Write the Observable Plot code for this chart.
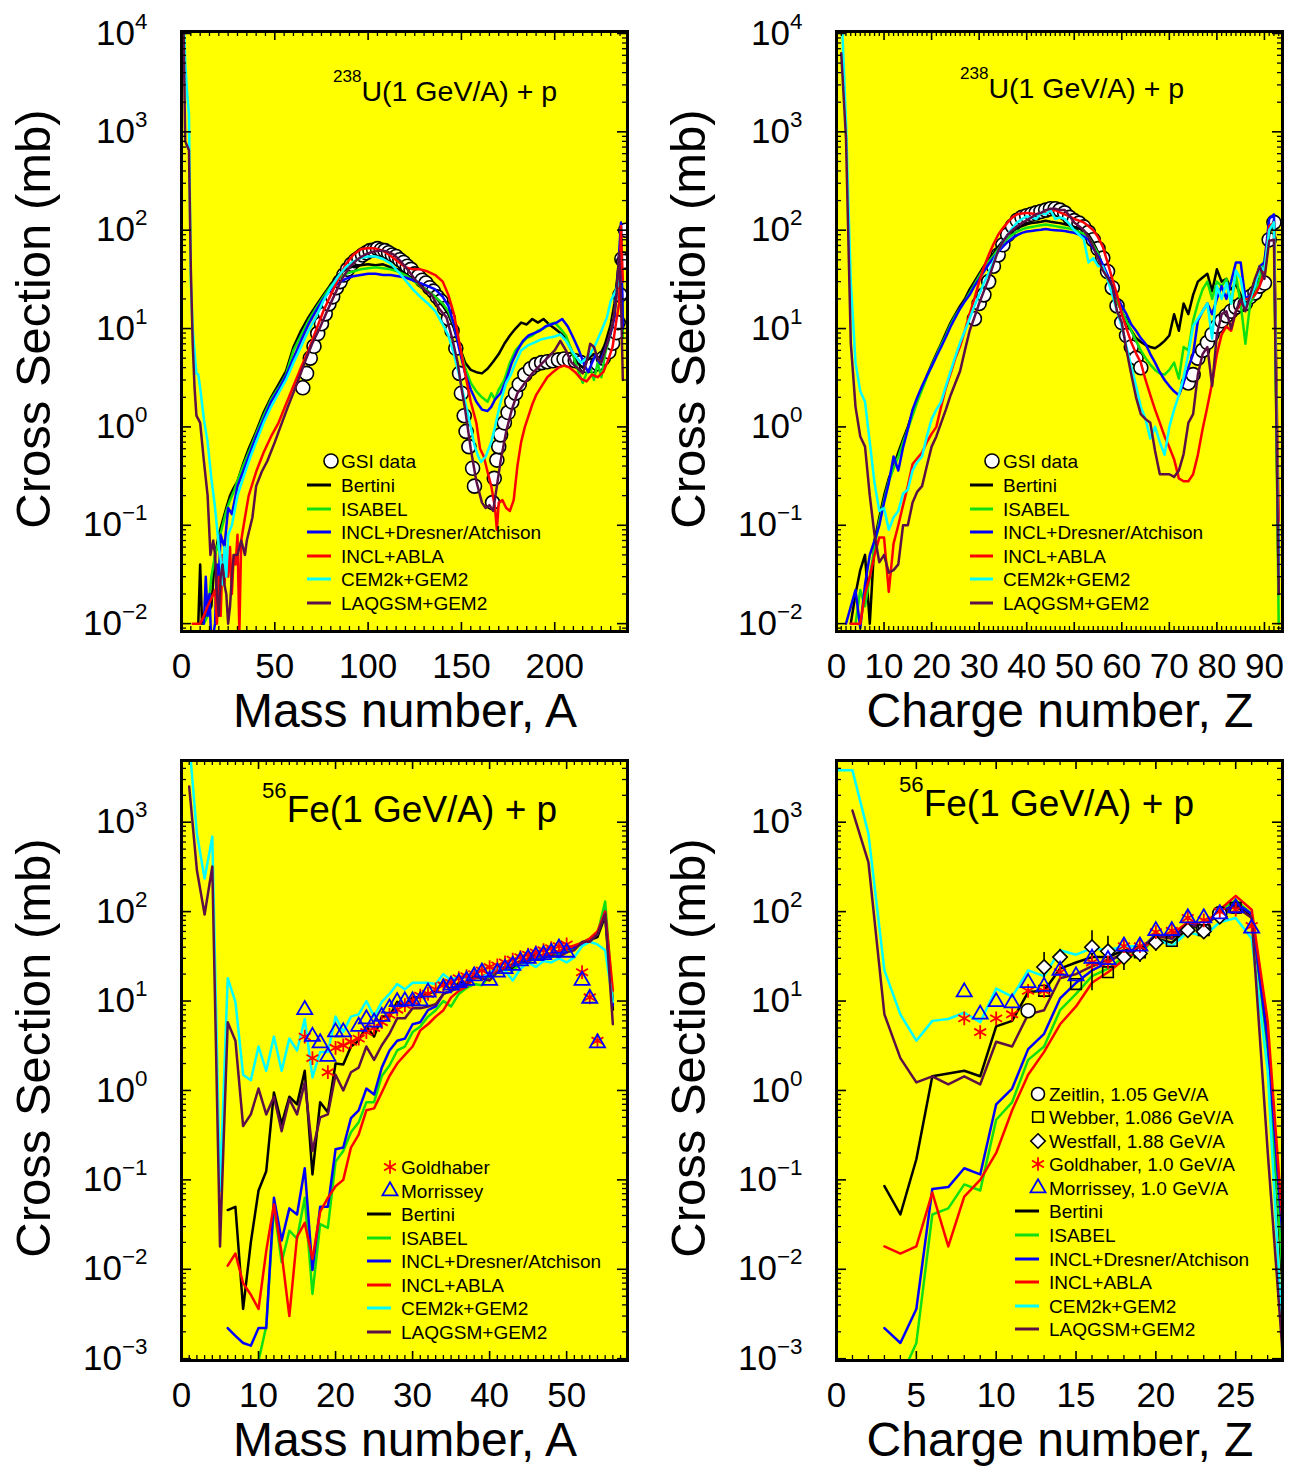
<!DOCTYPE html>
<html><head><meta charset="utf-8">
<script src="https://cdn.jsdelivr.net/npm/d3@7"></script>
<script src="https://cdn.jsdelivr.net/npm/@observablehq/plot@0.6"></script>
<style>
body{margin:0;background:#fff;font-family:"Liberation Sans",Arial,sans-serif}
#page{position:relative;width:1304px;height:1467px;overflow:hidden;background:#fff}
#page svg{position:absolute}
</style></head><body><div id="page"></div>
<script>
// ---------------- DATA ----------------
const MODEL_NAMES = ["Bertini","ISABEL","INCL+Dresner/Atchison","INCL+ABLA","CEM2k+GEM2","LAQGSM+GEM2"];
const MODEL_COLORS = ["#000000","#10e010","#0000ff","#ff0000","#00ffff","#5c1045"];

// 238U + p, cross section vs mass number A  [A, mb]
const U_A_GSI = [[65,2.5],[67,3.5],[69,5],[71,6.6],[73,8.9],[75,11.2],[77,14.1],[79,17.8],[81,21],[83,26],[85,30],[87,35],[89,40],[91,45],[93,49],[95,52],[97,56],[99,59],[101,62],[103,63],[105,65],[107,63],[109,62],[111,59],[113,56],[115,54],[117,50],[119,47],[121,43],[123,40],[125,36],[127,34],[129,31],[131,29],[133,26],[135,24],[137,21],[139,19],[141,16],[143,12.6],[145,9.5],[147,6.3],[149,3.5],[150,2.2],[151.5,1.3],[152.5,0.9],[154,0.63],[156,0.38],[157,0.25],[166.7,0.17],[167.6,0.3],[169,0.46],[170,0.63],[171,0.83],[173,1.1],[175,1.4],[177,1.8],[179,2.2],[181,2.7],[184,3.4],[187,3.9],[190,4.3],[193,4.5],[196,4.6],[199,4.7],[202,4.8],[205,4.9],[208,4.8],[211,4.7],[214,4.5],[217,4.2],[220,4.2],[223,4.4],[226,5],[229,5.8],[231,7.1],[233,9.1],[234,11.5],[235,22],[236,51],[237,48],[238,100]];
const U_A_Bertini = [[9,0.01],[10,0.04],[11,0.01],[16,0.015],[18,0.05],[20,0.08],[22,0.11],[24,0.15],[26,0.2],[28,0.24],[30,0.28],[33,0.42],[36,0.6],[40,0.9],[44,1.4],[48,2.0],[52,2.7],[56,3.7],[60,6.5],[64,9.5],[68,13],[72,17],[76,22],[80,28],[84,35],[88,40],[92,43],[96,44],[100,45],[104,44],[108,45],[112,42],[116,40],[120,36],[124,32],[128,28],[132,24],[136,21],[140,17],[143,14],[146,10],[149,6.5],[152,4.5],[155,3.8],[158,3.6],[161,3.5],[164,3.9],[167,4.6],[170,5.5],[173,7],[176,8.5],[179,10],[182,11.5],[185,11],[188,12.5],[191,11.5],[194,12.5],[197,11],[200,10],[203,9],[206,8],[209,6],[212,4.5],[215,4],[218,5],[221,5.5],[224,5],[227,7],[230,11],[232,18],[234,40],[235.5,60],[236.5,10]];
const U_A_ISABEL = [[12,0.01],[14,0.012],[16,0.03],[18,0.05],[20,0.07],[22,0.1],[24,0.14],[26,0.18],[28,0.22],[30,0.28],[33,0.4],[36,0.55],[40,0.85],[44,1.3],[48,1.9],[52,2.5],[56,3.4],[60,6],[64,8.5],[68,12],[72,16],[76,21],[80,27],[84,32],[88,36],[92,38],[96,40],[100,41],[104,42],[108,41],[112,40],[116,38],[120,35],[124,31],[128,27],[132,24],[136,21],[140,18],[143,15],[146,11],[149,6.5],[152,4],[155,2.8],[158,2.3],[161,2.0],[164,1.8],[166,2.2],[168,1.9],[170,2.4],[173,3],[176,4.5],[179,6],[182,7],[185,8],[188,8.5],[191,9.5],[194,10],[197,11],[200,11.5],[203,10],[206,8.5],[209,6],[212,4],[215,2.8],[217,3.5],[219,4],[221,3],[223,4.5],[225,3.2],[227,5.5],[230,9],[232,14],[234,35],[235.5,50],[236.5,8]];
const U_A_INCLD = [[12,0.01],[13,0.03],[14,0.012],[15,0.02],[16,0.006],[18,0.01],[19,0.04],[20,0.03],[21,0.08],[23,0.06],[25,0.15],[27,0.13],[30,0.25],[33,0.35],[36,0.5],[40,0.8],[44,1.2],[48,1.8],[52,2.4],[56,3.3],[60,5],[64,7.5],[68,11],[72,15],[76,20],[80,25],[84,29],[88,32],[92,34],[96,35],[100,36],[104,36],[108,35],[112,35],[116,34],[120,33],[124,31],[128,29],[132,27],[136,25],[140,21],[143,17],[146,11],[149,6],[152,3.5],[155,2.4],[158,1.8],[161,1.5],[164,1.45],[166,1.6],[168,1.9],[171,2.2],[174,3],[177,4.5],[180,6],[183,7.5],[186,8.5],[189,9],[192,9.5],[195,10.5],[198,11],[201,11.5],[204,12.5],[207,10.5],[210,8],[213,6],[216,4.2],[218,3.6],[220,4.5],[222,5.5],[224,4.5],[226,5.5],[228,7],[230,9],[232,13],[234,40],[235.5,120],[236.5,10]];
const U_A_ABLA = [[6,0.01],[10,0.01],[12,0.012],[14,0.015],[16,0.018],[18,0.022],[19,0.01],[20,0.03],[21,0.012],[22,0.05],[23,0.025],[24,0.05],[25,0.03],[26,0.06],[27,0.02],[28,0.05],[29,0.04],[30,0.08],[31,0.008],[32,0.07],[34,0.12],[36,0.2],[40,0.35],[44,0.55],[48,0.8],[52,1.1],[56,1.7],[60,2.6],[64,4],[68,6],[72,9.5],[76,15],[80,22],[84,32],[88,45],[92,56],[96,64],[100,66],[104,65],[108,62],[112,55],[116,48],[120,42],[124,40],[128,40],[132,38],[136,35],[140,30],[143,22],[146,14],[149,7],[152,3.5],[155,1.8],[158,1.1],[160,0.6],[162,0.5],[164,0.35],[166,0.25],[168,0.15],[169,0.09],[170,0.17],[172,0.18],[174,0.15],[176,0.14],[178,0.18],[180,0.4],[182,0.7],[184,1.0],[186,1.3],[188,1.7],[190,2.1],[193,2.6],[196,3.2],[199,3.6],[202,4],[205,4.2],[208,4],[211,3.6],[214,3.1],[217,2.9],[220,3.4],[223,3.2],[226,3.6],[229,5],[231,6.5],[233,12],[234.5,18],[235.5,110],[236.5,30]];
const U_A_CEM = [[1,20000],[2,5000],[3,2500],[4,1500],[5,30],[6,10],[8,3.5],[9,3.4],[10,2.5],[12,1.2],[14,0.7],[16,0.3],[18,0.15],[20,0.06],[21,0.045],[22,0.025],[23,0.06],[24,0.03],[25,0.08],[27,0.1],[30,0.2],[33,0.3],[37,0.5],[40,0.7],[44,1.1],[48,1.6],[52,2.2],[56,3.0],[60,4.5],[64,6.5],[68,9.5],[72,13],[76,19],[80,26],[84,34],[88,42],[92,48],[96,52],[100,54],[104,54],[108,51],[112,46],[116,38],[120,31],[124,25],[128,21],[132,18],[136,15],[140,11],[143,8.5],[146,5.5],[149,3.2],[152,1.8],[155,1.0],[157,0.65],[159,0.5],[160.5,0.44],[163,0.5],[166,0.7],[168,1.0],[171,1.8],[174,2.8],[176.5,3.4],[179,4.5],[182,6],[186,6.8],[189,7.2],[193,7.8],[196,8],[200,8.3],[203,8.7],[206,7.5],[209,6],[212,5],[214,4.5],[217,5],[219,5.5],[222,7],[225,9.5],[228,13],[230,19],[233,25],[235,32]];
const U_A_LAQGSM = [[1,15000],[2,800],[4,650],[5,40],[6,7],[7,2.5],[8,1.3],[9,1.2],[10,1.1],[12,0.45],[14,0.2],[15.5,0.05],[17,0.07],[18,0.05],[19,0.02],[20,0.012],[21,0.03],[22,0.04],[23,0.025],[24,0.02],[25,0.01],[26,0.015],[27,0.03],[28,0.05],[30,0.05],[32,0.07],[34,0.05],[35,0.07],[38,0.12],[40,0.25],[43,0.35],[46,0.45],[50,0.7],[53,1.0],[57,1.6],[62,2.8],[66,4.5],[70,7],[74,10],[78,15],[82,22],[86,32],[90,42],[94,50],[98,56],[102,60],[106,62],[110,61],[114,56],[118,47],[122,38],[126,30],[130,25],[134,22],[138,16],[142,13],[145,8],[148,4.5],[150,2.5],[152,1.5],[155,0.6],[158,0.28],[161,0.17],[163,0.15],[165,0.16],[167,0.14],[169,0.25],[171,0.45],[174,0.9],[177,1.5],[180,2.2],[184,2.8],[188,3.5],[192,4.2],[196,5],[200,6],[203,7.5],[206,6],[209,4.5],[212,4],[215,3.5],[217,4.5],[219,7],[221,6.5],[223,5],[225,4.5],[227,6],[229,8],[231,11],[233,20],[234.5,60],[235.5,20],[236.5,3]];

// 238U + p, cross section vs charge number Z  [Z, mb]
const U_Z_GSI = [[29,12.6],[30,18],[31,22],[32,30],[33,43],[34,56],[35,71],[36,90],[37,110],[38,126],[39,135],[40,140],[41,145],[42,150],[43,155],[44,160],[45,165],[46,165],[47,160],[48,150],[49,135],[50,125],[51,118],[52,108],[53,95],[54,80],[55,65],[56,52],[57,38],[58,26],[59,17],[60,11.5],[61,8.5],[62,6.5],[63,5],[64,4],[74,2.8],[75,3.4],[76,5],[77,6],[78,7.2],[79,8.7],[80,10.5],[81,12],[82,13.5],[83,15],[84,16.5],[85,17.5],[86,18],[87,21],[88,23],[89,27],[90,29],[91,80],[92,120]];
const U_Z_Bertini = [[3,0.01],[4,0.02],[5,0.035],[6,0.05],[7,0.01],[8,0.07],[9,0.12],[10,0.2],[11,0.3],[12,0.4],[13,0.55],[14,0.75],[15,1.0],[16,1.4],[17,1.9],[18,2.5],[19,3.3],[20,4.3],[21,5.5],[22,7],[23,9],[24,11.5],[25,14],[26,17],[27,20],[28,25],[29,30],[30,36],[31,43],[32,50],[33,58],[34,68],[35,78],[36,88],[37,97],[38,105],[39,110],[40,115],[41,118],[42,120],[43,122],[44,125],[45,122],[46,120],[47,118],[48,115],[49,112],[50,108],[51,104],[52,98],[53,90],[54,75],[55,60],[56,42],[57,32],[58,25],[59,19],[60,15],[61,11.5],[62,9.5],[63,8],[64,7.3],[65,6.8],[66,6.5],[67,6.3],[68,6.8],[69,7.5],[70,8.5],[71,14],[72,9.5],[73,18],[74,14],[75,22],[76,30],[77,33],[78,36],[79,24],[80,40],[81,30],[82,32],[83,25],[84,28],[85,22],[86,18],[87,20],[88,24],[89,28],[90,35],[91,90],[92,125],[93,0.02]];
const U_Z_ISABEL = [[4,0.01],[5,0.022],[6,0.015],[7,0.03],[8,0.06],[9,0.11],[10,0.18],[11,0.28],[12,0.38],[13,0.5],[14,0.7],[15,0.95],[16,1.3],[17,1.8],[18,2.4],[19,3.2],[20,4.2],[21,5.3],[22,6.8],[23,8.5],[24,11],[25,13.5],[26,16],[27,19],[28,23],[29,28],[30,34],[31,41],[32,48],[33,55],[34,64],[35,73],[36,82],[37,90],[38,97],[39,102],[40,106],[41,108],[42,110],[43,112],[44,114],[45,112],[46,110],[47,108],[48,106],[49,104],[50,100],[51,96],[52,92],[53,85],[54,70],[55,58],[56,42],[57,32],[58,25],[59,19],[60,15],[61,12],[62,9.5],[63,7.5],[64,6],[65,5],[66,4.3],[67,3.8],[68,3.5],[69,3.4],[70,3.8],[71,4.5],[72,3.1],[73,6.5],[74,6],[75,12],[76,18],[77,25],[78,30],[79,20],[80,30],[81,27],[82,32],[83,18],[84,35],[85,18],[86,7],[87,18],[88,22],[89,32],[90,50],[91,100],[92,120],[93,0.01]];
const U_Z_INCLD = [[2,0.01],[4,0.022],[5,0.009],[6,0.025],[7,0.05],[8,0.07],[9,0.1],[10,0.17],[11,0.27],[12,0.5],[13,0.36],[14,0.62],[15,0.95],[16,1.5],[17,2.0],[18,2.6],[19,3.3],[20,4.1],[21,5.2],[22,6.5],[23,8.2],[24,10.5],[25,13],[26,16],[27,19],[28,22],[29,27],[30,32],[31,38],[32,45],[33,52],[34,60],[35,68],[36,76],[37,83],[38,89],[39,94],[40,97],[41,98],[42,100],[43,101],[44,103],[45,101],[46,100],[47,99],[48,98],[49,96],[50,94],[51,90],[52,86],[53,80],[54,65],[55,55],[56,45],[57,35],[58,27],[59,21],[60,17],[61,14],[62,11],[63,9.5],[64,8],[65,7],[66,5.5],[67,4.5],[68,3.6],[69,3],[70,2.6],[71,2.3],[72,2.1],[73,2.8],[74,4],[75,5.5],[76,12],[77,15],[78,18],[79,14],[80,20],[81,27],[82,20],[83,30],[84,47],[85,47],[86,20],[87,22],[88,27],[89,43],[90,47],[91,130],[92,145],[93,0.04]];
const U_Z_ABLA = [[3,0.01],[4,0.01],[5,0.01],[6,0.02],[7,0.03],[8,0.05],[9,0.075],[10,0.075],[11,0.021],[12,0.065],[13,0.1],[14,0.16],[15,0.25],[16,0.42],[17,0.48],[18,0.55],[19,0.7],[20,0.85],[21,1.0],[22,1.6],[23,2.5],[24,3.5],[25,5],[26,6.6],[27,9.5],[28,14],[29,20],[30,30],[31,42],[32,56],[33,72],[34,90],[35,105],[36,120],[37,135],[38,145],[39,148],[40,150],[41,148],[42,145],[43,148],[44,150],[45,155],[46,160],[47,152],[48,145],[49,138],[50,130],[51,125],[52,120],[53,110],[54,100],[55,85],[56,68],[57,47],[58,32],[59,22],[60,14],[61,10],[62,7.2],[63,5.6],[64,4.5],[65,3.0],[66,2.1],[67,1.5],[68,1.1],[69,0.8],[70,0.62],[71,0.47],[72,0.3],[73,0.28],[74,0.28],[75,0.33],[76,0.52],[77,0.95],[78,1.6],[79,2.8],[80,5.5],[81,8.7],[82,10.5],[83,9.5],[84,15],[85,18],[86,20],[87,20],[88,22],[89,27],[90,39],[91,110],[92,120],[93,0.11]];
const U_Z_CEM = [[1,20000],[2,1250],[3,30],[4,4.5],[5,2.3],[6,1.8],[7,0.7],[8,0.27],[9,0.14],[10,0.15],[11,0.09],[12,0.12],[13,0.14],[14,0.21],[15,0.23],[16,0.36],[17,0.44],[18,0.5],[19,0.8],[20,1.2],[21,1.5],[22,1.8],[23,2.6],[24,3.7],[25,5.2],[26,7.2],[27,9.5],[28,12.6],[29,17],[30,22],[31,29],[32,37],[33,48],[34,62],[35,76],[36,90],[37,105],[38,120],[39,130],[40,138],[41,135],[42,130],[43,150],[44,145],[45,160],[46,130],[47,135],[48,130],[49,115],[50,100],[51,90],[52,81],[53,47],[54,52],[55,43],[56,43],[57,32],[58,22],[59,15],[60,10.5],[61,6.5],[62,4.1],[63,2.6],[64,1.6],[65,1.2],[66,0.76],[67,1.0],[68,0.7],[69,0.52],[70,1.0],[71,1.5],[72,2.1],[73,3.2],[74,5.5],[75,10.5],[76,12.6],[77,15],[78,18],[79,7.9],[80,27],[81,20],[82,29],[83,18],[84,39],[85,32],[86,16.5],[87,20],[88,27],[89,43],[90,39],[91,100],[92,120],[93,0.03]];
const U_Z_LAQGSM = [[1,6300],[2,850],[3,7.2],[4,1.6],[5,0.8],[6,0.63],[7,0.2],[8,0.08],[9,0.042],[10,0.05],[11,0.033],[12,0.035],[13,0.04],[14,0.1],[15,0.1],[16,0.17],[17,0.22],[18,0.25],[19,0.4],[20,0.63],[21,0.8],[22,1.1],[23,1.5],[24,2.1],[25,2.8],[26,3.7],[27,6],[28,9.5],[29,13],[30,18],[31,24],[32,32],[33,45],[34,62],[35,76],[36,90],[37,100],[38,110],[39,118],[40,126],[41,135],[42,145],[43,150],[44,160],[45,165],[46,165],[47,160],[48,160],[49,140],[50,120],[51,110],[52,100],[53,85],[54,68],[55,52],[56,39],[57,33],[58,27],[59,15],[60,11.5],[61,6],[62,3.4],[63,2],[64,1.35],[65,1.2],[66,1.1],[67,0.57],[68,0.33],[69,0.33],[70,0.33],[71,0.31],[72,0.36],[73,0.53],[74,1.1],[75,1.35],[76,3.4],[77,5.5],[78,6.5],[79,2.6],[80,8.7],[81,14],[82,15],[83,10],[84,15],[85,20],[86,15],[87,22],[88,32],[89,43],[90,32],[91,78],[92,80],[93,0.02]];

// 56Fe + p, cross section vs mass number A  [A, mb]
const Fe_A_Goldhaber = [[16,4.0],[17,2.3],[19,1.6],[20,3.0],[21,3.2],[22,3.5],[23,3.8],[24,4.5],[25,5],[26,5.8],[27,7],[28,8],[29,9],[30,10],[31,11.5],[32,12],[33,13.5],[34,15],[35,16],[36,18],[37,19],[38,20],[39,22],[40,24],[41,25],[42,27],[43,29],[44,31],[45,33],[46,35],[47,37],[48,39],[49,41],[50,43],[52,21],[53,11],[54,3.6]];
const Fe_A_Morrissey = [[16,8],[17,4.0],[18,3.4],[19,2.4],[20,4.5],[21,4.5],[23,5.2],[24,6.3],[25,5.8],[26,6.7],[27,8.3],[28,9.8],[29,10],[30,10],[31,10],[32,12.5],[34,14],[35,15],[36,16],[37,17],[38,19],[39,21],[40,17],[41,21],[42,23],[43,25],[44,28],[45,30],[46,32],[47,33],[48,35],[49,39],[50,35],[52,17],[53,10.7],[54,3.4]];
const Fe_A_Bertini = [[6,0.046],[7,0.05],[8,0.0036],[9,0.02],[10,0.076],[11,0.125],[12,0.95],[13,0.42],[14,0.85],[15,0.7],[16,1.66],[17,0.115],[18,0.74],[19,0.57],[20,2.0],[21,1.95],[22,3.1],[23,3.6],[24,5.2],[25,4.0],[26,6.7],[27,6.7],[28,9.8],[29,8.7],[30,11],[31,11],[32,12],[33,13],[34,16.5],[35,13],[36,16],[37,16],[38,19],[39,18],[40,20],[41,22],[42,24],[43,23],[44,27],[45,28],[46,30],[47,31],[48,33],[49,34],[50,38],[51,40],[52,44],[53,48],[54,52],[55,90],[56,8]];
const Fe_A_ISABEL = [[10,0.00095],[11,0.0023],[12,0.05],[13,0.012],[14,0.027],[15,0.022],[16,0.063],[17,0.0053],[18,0.032],[19,0.029],[20,0.16],[21,0.21],[22,0.34],[23,0.44],[24,0.74],[25,0.74],[26,1.45],[27,1.9],[28,2.8],[29,3.1],[30,4.5],[31,5.2],[32,6.7],[33,7.9],[34,10],[35,8.7],[36,12],[37,14],[38,15.5],[39,15],[40,19],[41,21],[42,23],[43,22],[44,26],[45,28],[46,30],[47,32],[48,31],[49,34],[50,36],[51,38],[52,45],[53,50],[54,56],[55,130],[56,10]];
const Fe_A_INCLD = [[6,0.0022],[7,0.0018],[8,0.0015],[9,0.0014],[10,0.0022],[11,0.0022],[12,0.063],[13,0.021],[14,0.048],[15,0.041],[16,0.135],[17,0.0098],[18,0.05],[19,0.05],[20,0.22],[21,0.23],[22,0.49],[23,0.6],[24,1.05],[25,0.9],[26,1.8],[27,2.8],[28,3.6],[29,3.8],[30,5.5],[31,5.8],[32,7.9],[33,8.7],[34,12],[35,13],[36,15],[37,16],[38,18],[39,19],[40,20],[41,22],[42,24],[43,25],[44,27],[45,30],[46,31],[47,33],[48,34],[49,36],[50,38],[51,40],[52,44],[53,48],[54,56],[55,100],[56,9]];
const Fe_A_ABLA = [[6,0.011],[7,0.015],[8,0.007],[9,0.0052],[10,0.0036],[11,0.016],[12,0.053],[13,0.015],[14,0.003],[15,0.023],[16,0.033],[17,0.013],[18,0.044],[19,0.063],[20,0.085],[21,0.1],[22,0.23],[23,0.32],[24,0.6],[25,0.63],[26,0.95],[27,1.45],[28,2.0],[29,2.5],[30,3.1],[31,4.7],[32,5.5],[33,6.7],[34,7.9],[35,11],[36,13],[37,14.5],[38,18],[39,19],[40,20],[41,22],[42,23],[43,26],[44,28],[45,30],[46,31],[47,33],[48,34],[49,36],[50,39],[51,42],[52,45],[53,50],[54,60],[55,100],[56,13]];
const Fe_A_CEM = [[1,8000],[2,740],[3,235],[4,690],[5,0.075],[6,18],[7,9.8],[8,1.5],[9,1.3],[10,3.1],[11,1.66],[12,4],[13,1.66],[14,3.8],[15,2.8],[16,6.3],[17,1.4],[18,2.7],[19,2.7],[20,6.7],[21,4.5],[22,6.7],[23,7.1],[24,10],[25,6.7],[26,9.8],[27,12],[28,15.5],[29,13.5],[30,16],[31,16],[32,16],[33,15.5],[34,20],[35,17],[36,19],[37,18],[38,22],[39,18],[40,21],[41,23],[42,22],[43,17],[44,23],[45,27],[46,24],[47,28],[48,27],[49,30],[50,27],[51,31],[52,41],[53,46],[54,43],[55,37],[56,9.8]];
const Fe_A_LAQGSM = [[1,2500],[2,290],[3,93],[4,320],[5,0.018],[6,5.8],[7,3.6],[8,0.4],[9,0.54],[10,1.05],[11,0.54],[12,0.85],[13,0.35],[14,0.8],[15,0.54],[16,1.23],[17,0.21],[18,0.5],[19,0.54],[20,1.5],[21,1.0],[22,1.6],[23,1.8],[24,3.1],[25,2.2],[26,3.2],[27,4.3],[28,6.4],[29,6.4],[30,8.3],[31,8.3],[32,8.7],[33,9.2],[34,12],[35,13],[36,14],[37,15.5],[38,19],[39,18],[40,17],[41,21],[42,23],[43,26],[44,28],[45,27],[46,35],[47,30],[48,33],[49,31],[50,35],[51,37],[52,46],[53,46],[54,56],[55,94],[56,5.5]];

// 56Fe + p, cross section vs charge number Z  [Z, mb]
const Fe_Z_Zeitlin = [[12,7.8],[23,65],[24,95]];
const Fe_Z_Webber = [[13,13],[15,15.5],[17,21],[19,35],[21,47],[23,62],[25,110]];
const Fe_Z_Westfall = [[13,24,17,35],[14,31,25,38],[16,40,13,61],[17,36,24,53],[18,31,22,41],[19,34,27,41],[20,45,36,55],[22,62,52,72],[23,60,50,70],[24,88,78,98]]; // [Z, mb, low, high]
const Fe_Z_Goldhaber = [[8,6.4],[9,4.5],[10,6.4],[11,7.1],[12,13],[13,13],[14,21],[16,27],[17,27],[18,41],[19,41],[20,59],[21,61],[22,85],[23,80],[24,100],[25,105],[26,69]];
const Fe_Z_Morrissey = [[8,12.6],[9,7.1],[10,9.8],[11,9.5],[12,16],[13,14.5],[14,22],[15,19],[16,30],[17,29],[18,41],[19,41],[20,61],[21,61],[22,85],[23,85],[24,94],[25,110],[26,65]];
const Fe_Z_Bertini = [[3,0.085],[4,0.041],[5,0.17],[6,1.44],[7,1.55],[8,1.66],[9,1.44],[10,5.2],[11,6],[12,12.6],[13,13],[14,23],[15,27],[16,31],[17,31],[18,37],[19,37],[20,50],[21,45],[22,65],[23,69],[24,100],[25,120],[26,89],[27,4],[28,0.004]];
const Fe_Z_ISABEL = [[4,0.0006],[5,0.0015],[6,0.041],[7,0.048],[8,0.089],[9,0.076],[10,0.47],[11,0.74],[12,2.2],[13,3.1],[14,7.9],[15,12],[16,19],[17,23],[18,31],[19,33],[20,53],[21,53],[22,69],[23,69],[24,105],[25,134],[26,94],[27,2.8],[28,0.006]];
const Fe_Z_INCLD = [[3,0.0022],[4,0.0015],[5,0.0036],[6,0.079],[7,0.083],[8,0.135],[9,0.115],[10,0.7],[11,1.05],[12,2.9],[13,4.3],[14,10.7],[15,16],[16,22],[17,27],[18,35],[19,37],[20,56],[21,50],[22,72],[23,72],[24,94],[25,126],[26,94],[27,3.5],[28,0.016]];
const Fe_Z_ABLA = [[3,0.018],[4,0.015],[5,0.018],[6,0.072],[7,0.018],[8,0.065],[9,0.1],[10,0.2],[11,0.6],[12,1.5],[13,2.7],[14,5.5],[15,8.7],[16,16],[17,21],[18,29],[19,37],[20,50],[21,56],[22,76],[23,72],[24,105],[25,150],[26,105],[27,6],[28,0.022]];
const Fe_Z_CEM = [[0,3800],[1,3800],[2,740],[3,22],[4,7.1],[5,3.6],[6,6],[7,6.3],[8,7.4],[9,5.8],[10,13.8],[11,11.2],[12,22],[13,19],[14,37],[15,33],[16,39],[17,37],[18,41],[19,41],[20,50],[21,41],[22,59],[23,53],[24,76],[25,85],[26,50],[27,1.66],[28,0.001]];
const Fe_Z_LAQGSM = [[1,1350],[2,355],[3,7.1],[4,2.3],[5,1.23],[6,1.44],[7,1.17],[8,1.44],[9,1.17],[10,3.5],[11,3.1],[12,7.1],[13,7.9],[14,18],[15,20],[16,24.5],[17,29],[18,33],[19,39],[20,53],[21,50],[22,69],[23,69],[24,94],[25,115],[26,85],[27,0.21],[28,0.0008]];

// tick values
const TL_XTICKS = [0,50,100,150,200];
const TR_XTICKS = [0,10,20,30,40,50,60,70,80,90];
const BL_XTICKS = [0,10,20,30,40,50];
const BR_XTICKS = [0,5,10,15,20,25];
const TOP_YTICKS = [1e-2,1e-1,1,10,100,1000,10000];
const BOT_YTICKS = [1e-3,1e-2,1e-1,1,10,100,1000];

// ---------------- RENDER ----------------
const FONT = "Liberation Sans, Arial, Helvetica, sans-serif";
const NS = "http://www.w3.org/2000/svg";
const FW = 446, FH = 600;
const page = document.getElementById("page");

function minorRange(step, max, skip) {
  const out = [];
  for (let v = step; v <= max + 1e-9; v += step) if (Math.abs(v / skip - Math.round(v / skip)) > 1e-6) out.push(+v.toFixed(6));
  return out;
}
function logMinors(lo, hi) {
  const out = [];
  for (let e = lo; e <= hi; e++) for (let m = 2; m <= 9; m++) out.push(m * Math.pow(10, e));
  return out;
}
function supFormat(d) { const e = Math.round(Math.log10(d)); return "10^" + (e < 0 ? "\u2212" + (-e) : String(e)); }
function fixSup(svg) {
  svg.querySelectorAll("text").forEach(t => {
    const m = /^10\^(.+)$/.exec(t.textContent);
    if (!m) return;
    while (t.firstChild) t.removeChild(t.firstChild);
    const a = document.createElementNS(NS, "tspan"); a.textContent = "10";
    const b = document.createElementNS(NS, "tspan"); b.textContent = m[1];
    b.setAttribute("font-size", "0.64em"); b.setAttribute("dy", "-0.72em");
    t.appendChild(a); t.appendChild(b);
  });
}

function panel(cfg) {
  const lineMarks = cfg.lines.map((data, i) => Plot.line(data, {x: d => d[0], y: d => d[1], stroke: MODEL_COLORS[i], strokeWidth: 2.5, clip: true}));
  const svg = Plot.plot({
    width: 646, height: cfg.height,
    marginLeft: 181, marginTop: 31, marginRight: 19, marginBottom: cfg.height - 631,
    style: {background: "transparent", fontFamily: FONT, fontSize: "35px", color: "#000", overflow: "visible"},
    x: {domain: cfg.xDomain},
    y: {type: "log", domain: cfg.yDomain},
    marks: [
      Plot.frame({fill: "#ffff00"}),
      ...(cfg.under || []),
      ...lineMarks,
      ...(cfg.over || []),
      Plot.ruleX(cfg.xMajor, {x: d => d, insetTop: FH - 9, strokeWidth: 1.6}),
      Plot.ruleX(cfg.xMajor, {x: d => d, insetBottom: FH - 9, strokeWidth: 1.6}),
      Plot.ruleX(cfg.xMinor, {x: d => d, insetTop: FH - 5, strokeWidth: 1.3}),
      Plot.ruleX(cfg.xMinor, {x: d => d, insetBottom: FH - 5, strokeWidth: 1.3}),
      Plot.ruleY(cfg.yMajor, {y: d => d, insetRight: FW - 10, strokeWidth: 1.6}),
      Plot.ruleY(cfg.yMajor, {y: d => d, insetLeft: FW - 10, strokeWidth: 1.6}),
      Plot.ruleY(cfg.yMinor, {y: d => d, insetRight: FW - 5, strokeWidth: 1.3}),
      Plot.ruleY(cfg.yMinor, {y: d => d, insetLeft: FW - 5, strokeWidth: 1.3}),
      Plot.axisX(cfg.xMajor, {anchor: "bottom", tickSize: 0, tickPadding: 22, fontSize: 35, label: null}),
      Plot.axisY(cfg.yMajor, {anchor: "left", tickSize: 0, tickPadding: 34, fontSize: 35, tickFormat: supFormat, label: null}),
      Plot.frame({stroke: "#000", strokeWidth: 3})
    ]
  });
  fixSup(svg);
  svg.style.left = cfg.left + "px";
  svg.style.top = cfg.top + "px";
  page.appendChild(svg);
}

const TOP_YDOM = [Math.pow(10, -2.08), Math.pow(10, 4.02)];
const BOT_YDOM = [Math.pow(10, -3.02), Math.pow(10, 3.69)];
const gsiDot = data => Plot.dot(data, {x: d => d[0], y: d => d[1], r: 7, fill: "#fff", stroke: "#000", strokeWidth: 1.6, clip: true});
const starDot = data => Plot.dot(data, {x: d => d[0], y: d => d[1], symbol: "asterisk", r: 6.5, stroke: "#ff0000", strokeWidth: 1.8, clip: true});
const triDot = data => Plot.dot(data, {x: d => d[0], y: d => d[1], symbol: "triangle", r: 5.6, fill: "none", stroke: "#0000ff", strokeWidth: 1.8, clip: true});

panel({left: 0, top: 0, height: 745, xDomain: [0, 239], yDomain: TOP_YDOM,
  xMajor: TL_XTICKS, xMinor: minorRange(5, 235, 50), yMajor: TOP_YTICKS, yMinor: logMinors(-3, 3).filter(v => v > TOP_YDOM[0] && v < TOP_YDOM[1]),
  under: [gsiDot(U_A_GSI)],
  lines: [U_A_Bertini, U_A_ISABEL, U_A_INCLD, U_A_ABLA, U_A_CEM, U_A_LAQGSM]});

panel({left: 655, top: 0, height: 745, xDomain: [0, 93.8], yDomain: TOP_YDOM,
  xMajor: TR_XTICKS, xMinor: minorRange(1, 93, 10), yMajor: TOP_YTICKS, yMinor: logMinors(-3, 3).filter(v => v > TOP_YDOM[0] && v < TOP_YDOM[1]),
  under: [gsiDot(U_Z_GSI)],
  lines: [U_Z_Bertini, U_Z_ISABEL, U_Z_INCLD, U_Z_ABLA, U_Z_CEM, U_Z_LAQGSM]});

panel({left: 0, top: 729, height: 738, xDomain: [0, 57.9], yDomain: BOT_YDOM,
  xMajor: BL_XTICKS, xMinor: minorRange(1, 57, 10), yMajor: BOT_YTICKS, yMinor: logMinors(-4, 3).filter(v => v > BOT_YDOM[0] && v < BOT_YDOM[1]),
  lines: [Fe_A_Bertini, Fe_A_ISABEL, Fe_A_INCLD, Fe_A_ABLA, Fe_A_CEM, Fe_A_LAQGSM],
  over: [starDot(Fe_A_Goldhaber), triDot(Fe_A_Morrissey)]});

panel({left: 655, top: 729, height: 738, xDomain: [0, 27.93], yDomain: BOT_YDOM,
  xMajor: BR_XTICKS, xMinor: minorRange(1, 27, 5), yMajor: BOT_YTICKS, yMinor: logMinors(-4, 3).filter(v => v > BOT_YDOM[0] && v < BOT_YDOM[1]),
  lines: [Fe_Z_Bertini, Fe_Z_ISABEL, Fe_Z_INCLD, Fe_Z_ABLA, Fe_Z_CEM, Fe_Z_LAQGSM],
  over: [
    Plot.ruleX(Fe_Z_Westfall, {x: d => d[0], y1: d => d[2], y2: d => d[3], stroke: "#000", strokeWidth: 1.6, clip: true}),
    Plot.dot(Fe_Z_Zeitlin, {x: d => d[0], y: d => d[1], r: 7, fill: "#fff", stroke: "#000", strokeWidth: 1.6}),
    Plot.dot(Fe_Z_Webber, {x: d => d[0], y: d => d[1], symbol: "square", r: 6, fill: "none", stroke: "#000", strokeWidth: 1.6}),
    Plot.dot(Fe_Z_Westfall, {x: d => d[0], y: d => d[1], symbol: "diamond2", r: 6.5, fill: "#fff", stroke: "#000", strokeWidth: 1.6}),
    starDot(Fe_Z_Goldhaber), triDot(Fe_Z_Morrissey)
  ]});

// ---------------- overlay: titles, axis titles, legends ----------------
const ov = d3.select(page).append("svg").attr("width", 1304).attr("height", 1467)
  .style("left", "0px").style("top", "0px").style("pointer-events", "none")
  .attr("font-family", FONT);

function xTitle(x, y, s) { ov.append("text").attr("x", x).attr("y", y).attr("text-anchor", "middle").attr("font-size", 48).text(s); }
function yTitle(x, y, s) { ov.append("text").attr("transform", `translate(${x},${y}) rotate(-90)`).attr("text-anchor", "middle").attr("font-size", 49).text(s); }
xTitle(405, 727, "Mass number, A"); xTitle(1060, 727, "Charge number, Z");
xTitle(405, 1456, "Mass number, A"); xTitle(1060, 1456, "Charge number, Z");
yTitle(50, 319, "Cross Section (mb)"); yTitle(705, 319, "Cross Section (mb)");
yTitle(50, 1048, "Cross Section (mb)"); yTitle(705, 1048, "Cross Section (mb)");

function pTitle(x, y, sup, main, fs) {
  const t = ov.append("text").attr("x", x).attr("y", y).attr("font-size", fs);
  t.append("tspan").attr("font-size", fs * 0.6).attr("dy", -fs * 0.66).text(sup);
  t.append("tspan").attr("dy", fs * 0.66).text(main);
}
pTitle(333, 101, "238", "U(1 GeV/A) + p", 28.5);
pTitle(960, 98, "238", "U(1 GeV/A) + p", 28.5);
pTitle(262, 822, "56", "Fe(1 GeV/A) + p", 37);
pTitle(899, 816, "56", "Fe(1 GeV/A) + p", 37);

const SYM = {circle: d3.symbolCircle, asterisk: d3.symbolAsterisk, triangle: d3.symbolTriangle, square: d3.symbolSquare, diamond2: d3.symbolDiamond2};
function legend(symX, x1, x2, tx, rows, symbols) {
  rows.forEach((y, i) => {
    if (i < symbols.length) {
      const s = symbols[i];
      ov.append("path").attr("d", d3.symbol(SYM[s.symbol], Math.PI * s.r * s.r)())
        .attr("transform", `translate(${symX},${y})`)
        .attr("fill", s.fill).attr("stroke", s.stroke).attr("stroke-width", s.sw || 1.6);
      ov.append("text").attr("x", tx).attr("y", y + 6.5).attr("font-size", 19).text(s.label);
    } else {
      const k = i - symbols.length;
      ov.append("line").attr("x1", x1).attr("x2", x2).attr("y1", y).attr("y2", y)
        .attr("stroke", MODEL_COLORS[k]).attr("stroke-width", 3);
      ov.append("text").attr("x", tx).attr("y", y + 6.5).attr("font-size", 19).text(MODEL_NAMES[k]);
    }
  });
}
const GSI_SYM = [{label: "GSI data", symbol: "circle", r: 7, fill: "#fff", stroke: "#000"}];
legend(331, 307, 331, 341, [461, 485, 509, 532, 556, 579, 603], GSI_SYM);
legend(992, 970, 993, 1003, [461, 485, 509, 532, 556, 579, 603], GSI_SYM);
legend(390, 367, 391, 401, [1167, 1191, 1214, 1238, 1261, 1285, 1308, 1332], [
  {label: "Goldhaber", symbol: "asterisk", r: 6.5, fill: "none", stroke: "#ff0000", sw: 1.8},
  {label: "Morrissey", symbol: "triangle", r: 5.6, fill: "none", stroke: "#0000ff", sw: 1.8}]);
legend(1038, 1015, 1039, 1049, [1094, 1117, 1141, 1164, 1188, 1211, 1235, 1259, 1282, 1306, 1329], [
  {label: "Zeitlin, 1.05 GeV/A", symbol: "circle", r: 6.5, fill: "#fff", stroke: "#000"},
  {label: "Webber, 1.086 GeV/A", symbol: "square", r: 6, fill: "none", stroke: "#000"},
  {label: "Westfall, 1.88 GeV/A", symbol: "diamond2", r: 6.5, fill: "#fff", stroke: "#000"},
  {label: "Goldhaber, 1.0 GeV/A", symbol: "asterisk", r: 6.5, fill: "none", stroke: "#ff0000", sw: 1.8},
  {label: "Morrissey, 1.0 GeV/A", symbol: "triangle", r: 5.6, fill: "none", stroke: "#0000ff", sw: 1.8}]);
</script></body></html>
